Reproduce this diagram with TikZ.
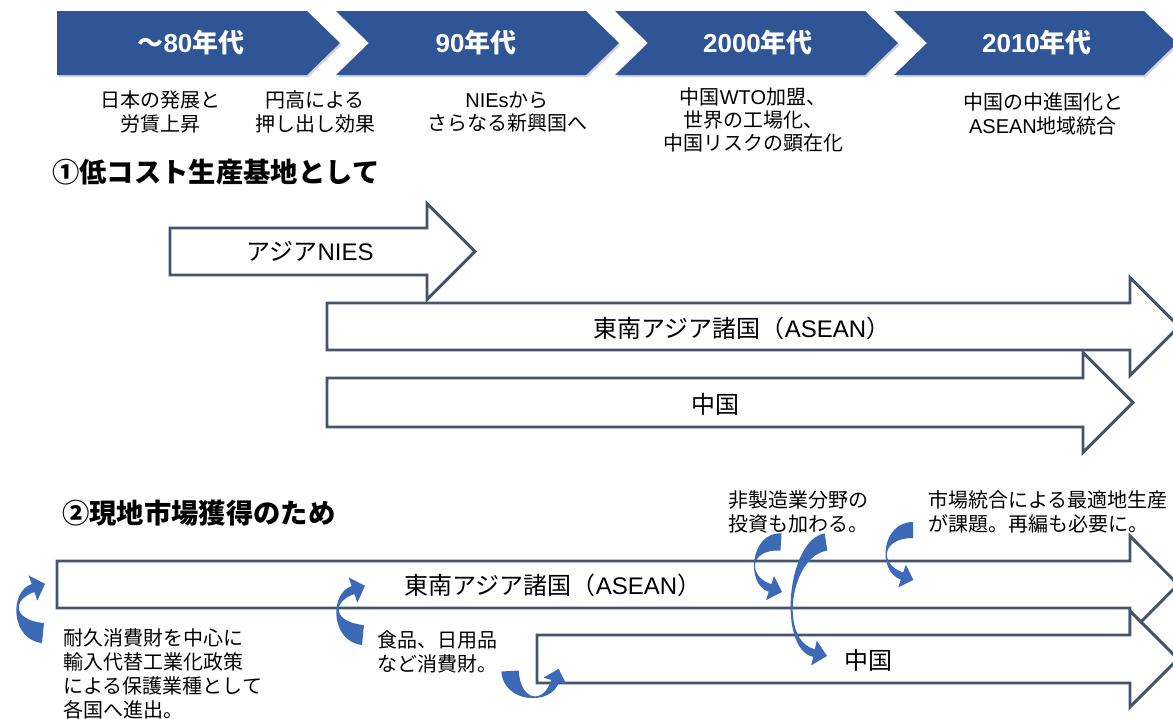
\documentclass[tikz,border=0pt]{standalone}
\usepackage{fontspec}
\setmainfont{Noto Sans CJK JP}
\newfontfamily\lat{Liberation Sans}
\usetikzlibrary{calc}
\definecolor{chev}{HTML}{2F5597}
\definecolor{edgec}{HTML}{44546A}
\definecolor{cblue}{HTML}{3D6AB6}
\newcommand\carrow[8]{%
  \coordinate (p0) at (#1); \coordinate (c1) at (#2);
  \coordinate (c2) at (#3); \coordinate (p3) at (#4);
  \coordinate (l0) at ($(p0)!#5!90:(c1)$);
  \coordinate (r0) at ($(p0)!#5!-90:(c1)$);
  \coordinate (l3) at ($(p3)!#6!-90:(c2)$);
  \coordinate (r3) at ($(p3)!#6!90:(c2)$);
  \coordinate (cl1) at ($(c1)+(l0)-(p0)$);
  \coordinate (cr1) at ($(c1)+(r0)-(p0)$);
  \coordinate (cl2) at ($(c2)+(l3)-(p3)$);
  \coordinate (cr2) at ($(c2)+(r3)-(p3)$);
  \coordinate (hl) at ($(p3)!#7!-90:(c2)$);
  \coordinate (hr) at ($(p3)!#7!90:(c2)$);
  \coordinate (tp) at ($(p3)!-#8!(c2)$);
  \fill[cblue] (l0) .. controls (cl1) and (cl2) .. (l3) -- (hl) -- (tp) -- (hr) -- (r3) .. controls (cr2) and (cr1) .. (r0) -- cycle;
}
\newcommand\barrow[6]{%
  \draw[blockarrow] (#1,{#3-#4}) -- (#2,{#3-#4}) -- (#2,{#3-#5}) -- ({#2+#6},#3) -- (#2,{#3+#5}) -- (#2,{#3+#4}) -- (#1,{#3+#4}) -- cycle;
}
\begin{document}
\begin{tikzpicture}[x=0.75pt,y=-0.75pt,
  blockarrow/.style={draw=edgec, fill=white, line width=2.2pt, line join=miter},
  hdr/.style={text=white, font=\fontsize{19.5}{21}\selectfont\bfseries, inner sep=0pt},
  sub/.style={font=\fontsize{15}{17.5}\selectfont, align=center, inner sep=0pt},
  note/.style={font=\fontsize{15}{18}\selectfont, align=left, inner sep=0pt, anchor=north west},
  ttl/.style={font=\fontsize{20.5}{24}\selectfont\bfseries, inner sep=0pt, anchor=west},
  alab/.style={font=\fontsize{18}{20}\selectfont, inner sep=0pt}]
\useasboundingbox (0,0) rectangle (1173,718);
\clip (0,0) rectangle (1173,718);
% header chevrons
\begin{scope}[shift={(1.5,2)}]
\fill[black!35, opacity=0.5] (57,11) -- (307,11) -- (340,43) -- (307,75) -- (57,75) -- cycle;
\fill[black!35, opacity=0.5] (336,11) -- (586,11) -- (619,43) -- (586,75) -- (336,75) -- (369,43) -- cycle;
\fill[black!35, opacity=0.5] (615,11) -- (865,11) -- (898,43) -- (865,75) -- (615,75) -- (648,43) -- cycle;
\fill[black!35, opacity=0.5] (894,11) -- (1144,11) -- (1177,43) -- (1144,75) -- (894,75) -- (927,43) -- cycle;
\end{scope}
\fill[chev] (57,11) -- (307,11) -- (340,43) -- (307,75) -- (57,75) -- cycle;
\fill[chev] (336,11) -- (586,11) -- (619,43) -- (586,75) -- (336,75) -- (369,43) -- cycle;
\fill[chev] (615,11) -- (865,11) -- (898,43) -- (865,75) -- (615,75) -- (648,43) -- cycle;
\fill[chev] (894,11) -- (1144,11) -- (1177,43) -- (1144,75) -- (894,75) -- (927,43) -- cycle;
\node[hdr] (h1) at (191,43) {～{\lat 80}年代};
\node[hdr] (h2) at (476,43) {{\lat 90}年代};
\node[hdr] (h3) at (758,43) {{\lat 2000}年代};
\node[hdr] (h4) at (1037,43) {{\lat 2010}年代};
% sub texts
\node[sub] (s1) at (160,112) {日本の発展と\\労賃上昇};
\node[sub] (s2) at (315,112) {円高による\\押し出し効果};
\node[sub] (s3) at (507,112) {{\lat NIEs}から\\さらなる新興国へ};
\node[sub] (s4) at (753,120) {中国{\lat WTO}加盟、\\世界の工場化、\\中国リスクの顕在化};
\node[sub] (s5) at (1043,114) {中国の中進国化と\\{\lat ASEAN}地域統合};
% section 1
\node[ttl] (t1) at (52,172) {①低コスト生産基地として};
\barrow{170}{427}{251.5}{23.5}{48}{48}
\barrow{327}{1130}{326.5}{23.5}{49}{49}
\barrow{327}{1083}{402.5}{24.5}{50}{50}
\node[alab] (n1) at (310,251) {アジア{\lat NIES}};
\node[alab] (n2) at (742,328) {東南アジア諸国（{\lat ASEAN}）};
\node[alab] (n3) at (715,404) {中国};
% section 2
\node[ttl] (t2) at (62,513) {②現地市場獲得のため};
\barrow{57}{1130}{584.5}{23.5}{48.5}{48}
\barrow{537}{1130}{659}{24}{48}{48}
\node[alab] (m1) at (553,585) {東南アジア諸国（{\lat ASEAN}）};
\node[alab] (m2) at (868,660) {中国};
% curved arrows
\carrow{43,633}{12,630}{10,596}{33,588}{7.5pt}{3.2pt}{10pt}{9.5pt}
\carrow{363,635}{332,632}{330,598}{353,590}{7.5pt}{3.2pt}{10pt}{9.5pt}
\carrow{510,671}{512,703}{548,705}{555,681}{6.5pt}{3pt}{9pt}{9.5pt}
\carrow{781,542}{750,540}{746,580}{770,588}{6.5pt}{3pt}{9.5pt}{9.5pt}
\carrow{826,542}{788,548}{778,645}{814,653}{6.5pt}{3pt}{9.5pt}{10pt}
\carrow{913,530}{881,530}{878,568}{902,576}{6pt}{2.8pt}{9pt}{9pt}
% notes
\node[note] (a1) at (63,628) {耐久消費財を中心に\\輸入代替工業化政策\\による保護業種として\\各国へ進出。};
\node[note] (a2) at (377,630) {食品、日用品\\など消費財。};
\node[note] (a3) at (728,490) {非製造業分野の\\投資も加わる。};
\node[note] (a4) at (928,490) {市場統合による最適地生産\\が課題。再編も必要に。};
\end{tikzpicture}
\end{document}
